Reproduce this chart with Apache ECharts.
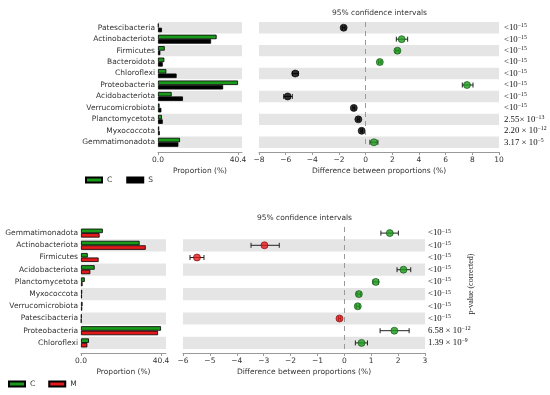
<!DOCTYPE html>
<html><head><meta charset="utf-8">
<script src="https://cdn.jsdelivr.net/npm/echarts@6/dist/echarts.min.js"></script>
<style>html,body{margin:0;padding:0;background:#fff}#c{width:550px;height:395px}</style>
</head><body><div id="c"></div>
<script>
// ---- data: top panel (C vs S) ----
const topCats = ['Patescibacteria','Actinobacteriota','Firmicutes','Bacteroidota','Chloroflexi','Proteobacteria','Acidobacteriota','Verrucomicrobiota','Planctomycetota','Myxococcota','Gemmatimonadota'];
const topC = [0.3, 29.6, 3.4, 3.2, 4.2, 40.4, 6.9, 0.8, 2.0, 0.6, 11.1];
const topS = [2.0, 26.8, 1.2, 2.4, 9.4, 32.9, 12.6, 1.7, 2.4, 0.9, 10.3];
const topDiff = [-1.65, 2.7, 2.38, 1.06, -5.28, 7.6, -5.85, -0.89, -0.55, -0.3, 0.62];
const topLow  = [-1.75, 2.3, 2.26, 0.96, -5.5, 7.25, -6.15, -0.96, -0.62, -0.36, 0.32];
const topHigh = [-1.55, 3.15, 2.5, 1.16, -5.05, 8.05, -5.5, -0.82, -0.48, -0.24, 0.92];
const topP = ['<10^-15','<10^-15','<10^-15','<10^-15','<10^-15','<10^-15','<10^-15','<10^-15','2.55× 10^-13','2.20 × 10^-12','3.17 × 10^-5'];
// ---- data: bottom panel (C vs M) ----
const botCats = ['Gemmatimonadota','Actinobacteriota','Firmicutes','Acidobacteriota','Planctomycetota','Myxococcota','Verrucomicrobiota','Patescibacteria','Proteobacteria','Chloroflexi'];
const botC = [11.0, 29.6, 3.4, 6.9, 1.9, 0.6, 0.8, 0.3, 40.4, 4.0];
const botM = [9.4, 32.7, 8.9, 4.7, 0.8, 0.5, 0.6, 0.2, 38.9, 3.2];
const botDiff = [1.69, -2.97, -5.48, 2.2, 1.17, 0.54, 0.5, -0.18, 1.86, 0.64];
const botLow  = [1.36, -3.47, -5.74, 1.96, 1.07, 0.47, 0.44, -0.22, 1.33, 0.41];
const botHigh = [2.01, -2.42, -5.22, 2.47, 1.27, 0.61, 0.56, -0.14, 2.41, 0.86];
const botP = ['<10^-15','<10^-15','<10^-15','<10^-15','<10^-15','<10^-15','<10^-15','<10^-15','6.58 × 10^-12','1.39 × 10^-9'];
const propTicks = [0, 40.4];

const GREEN = '#1a9a1a', BLACK = '#000000', RED = '#e31a1c', BAND = '#e5e5e5';
const FONT = 'DejaVu Sans', SERIF = 'Liberation Serif';
const FS = 7.5;
const minus = v => String(v).replace('-', '\u2212');
const pfmt = s => { const p = s.split('^'); return '{n|' + p[0] + '}{s|' + minus(p[1]) + '}'; };
const pRich = { n: { fontFamily: SERIF, fontSize: 8.8, color: '#111', lineHeight: 10 },
                s: { fontFamily: SERIF, fontSize: 5.8, color: '#111', verticalAlign: 'top', lineHeight: 6 } };

const axisLineStyle = { show: true, lineStyle: { color: '#999', width: 1 } };
const axisTickStyle = { show: true, length: 3, lineStyle: { color: '#999' } };
const lblStyle = { fontFamily: FONT, fontSize: FS, color: '#333', margin: 4 };
const nameStyle = { fontFamily: FONT, fontSize: FS, color: '#333' };

function propAxis(grid, max) {
  return { type: 'value', gridIndex: grid, min: 0, max: max, offset: 4,
    axisLine: axisLineStyle, axisTick: Object.assign({ customValues: propTicks }, axisTickStyle),
    axisLabel: Object.assign({ customValues: propTicks, formatter: v => v.toFixed(1) }, lblStyle),
    splitLine: { show: false }, name: 'Proportion (%)', nameLocation: 'middle', nameGap: 15,
    nameTextStyle: nameStyle };
}
function diffAxis(grid, min, max, interval) {
  return { type: 'value', gridIndex: grid, min: min, max: max, interval: interval, offset: 4,
    axisLine: axisLineStyle, axisTick: axisTickStyle,
    axisLabel: Object.assign({ formatter: minus }, lblStyle),
    splitLine: { show: false }, name: 'Difference between proportions (%)', nameLocation: 'middle', nameGap: 15,
    nameTextStyle: nameStyle };
}
function catAxis(grid, cats, colors, showLabel) {
  return { type: 'category', gridIndex: grid, data: cats, inverse: true,
    axisLine: { show: false }, axisTick: { show: false },
    axisLabel: Object.assign({ show: showLabel, interval: 0 }, lblStyle, { margin: 3 }),
    splitLine: { show: false }, splitArea: { show: true, interval: 0, areaStyle: { color: colors } } };
}
function pAxis(grid, pv, margin, name) {
  return { type: 'category', gridIndex: grid, data: pv, inverse: true, position: 'right',
    axisLine: { show: false }, axisTick: { show: false },
    axisLabel: { show: true, interval: 0, margin: margin, formatter: pfmt, rich: pRich, align: 'left' },
    splitLine: { show: false }, splitArea: { show: false },
    name: name || '', nameLocation: 'middle', nameRotate: 90, nameGap: 42, nameMoveOverlap: false,
    nameTextStyle: { fontFamily: SERIF, fontSize: 8, color: '#222', padding: [0, 0, 0, 8] } };
}
function errSeries(xi, yi, low, high) {
  return { type: 'custom', xAxisIndex: xi, yAxisIndex: yi, z: 3, silent: true,
    data: low.map((l, i) => [l, high[i], i]),
    encode: { x: [0, 1], y: 2 },
    renderItem: function (params, api) {
      const y = api.value(2);
      const a = api.coord([api.value(0), y]);
      const b = api.coord([api.value(1), y]);
      const h = 2.5, st = { stroke: '#222', lineWidth: 1 };
      return { type: 'group', children: [
        { type: 'line', shape: { x1: a[0], y1: a[1], x2: b[0], y2: b[1] }, style: st },
        { type: 'line', shape: { x1: a[0], y1: a[1] - h, x2: a[0], y2: a[1] + h }, style: st },
        { type: 'line', shape: { x1: b[0], y1: b[1] - h, x2: b[0], y2: b[1] + h }, style: st } ] };
    } };
}
function dotSeries(xi, yi, diff, negColor, negBorder) {
  return { type: 'scatter', xAxisIndex: xi, yAxisIndex: yi, z: 4, symbolSize: 7,
    data: diff.map((d, i) => ({ value: [d, i],
      itemStyle: { color: d >= 0 ? GREEN : negColor, borderColor: d >= 0 ? '#0f4f0f' : negBorder, borderWidth: 0.8 } })),
    markLine: { silent: true, symbol: 'none', label: { show: false },
      lineStyle: { type: [5, 4], color: '#999', width: 1 }, data: [{ xAxis: 0 }] } };
}
function barSeries(name, xi, yi, data, color) {
  return { type: 'bar', name: name, xAxisIndex: xi, yAxisIndex: yi, data: data, barWidth: 4.5, barGap: '0%',
    itemStyle: { color: color, borderColor: '#000', borderWidth: 0.8 } };
}

const option = {
  animation: false,
  backgroundColor: '#fff',
  title: [
    { text: '95% confidence intervals', left: 327, top: 4, textStyle: { fontFamily: FONT, fontSize: FS, fontWeight: 'normal', color: '#333' } },
    { text: '95% confidence intervals', left: 252, top: 209, textStyle: { fontFamily: FONT, fontSize: FS, fontWeight: 'normal', color: '#333' } }
  ],
  legend: [
    { data: ['C', 'S'], left: 85, top: 176, padding: 0, itemWidth: 16, itemHeight: 5, itemGap: 14, icon: 'rect',
      textStyle: { fontFamily: FONT, fontSize: FS, color: '#333' } },
    { data: ['C', 'M'], left: 8, top: 380, padding: 0, itemWidth: 16, itemHeight: 5, itemGap: 13, icon: 'rect',
      textStyle: { fontFamily: FONT, fontSize: FS, color: '#333' } }
  ],
  grid: [
    { left: 158, width: 84, top: 22, height: 126 },
    { left: 259, width: 240, top: 22, height: 126 },
    { left: 81, width: 85, top: 227, height: 122 },
    { left: 183, width: 242, top: 227, height: 122 }
  ],
  xAxis: [
    propAxis(0, 40.4 * 84 / 80),
    diffAxis(1, -8, 10, 2),
    propAxis(2, 40.4 * 85 / 80),
    diffAxis(3, -6, 3, 1)
  ],
  yAxis: [
    catAxis(0, topCats, [BAND, 'rgba(0,0,0,0)'], true),
    catAxis(1, topCats, [BAND, 'rgba(0,0,0,0)'], false),
    pAxis(1, topP, 5),
    catAxis(2, botCats, ['rgba(0,0,0,0)', BAND], true),
    catAxis(3, botCats, ['rgba(0,0,0,0)', BAND], false),
    pAxis(3, botP, 3, 'p-value (corrected)')
  ],
  series: [
    barSeries('C', 0, 0, topC, GREEN),
    barSeries('S', 0, 0, topS, BLACK),
    errSeries(1, 1, topLow, topHigh),
    dotSeries(1, 1, topDiff, BLACK, '#000'),
    barSeries('C', 2, 3, botC, GREEN),
    barSeries('M', 2, 3, botM, RED),
    errSeries(3, 4, botLow, botHigh),
    dotSeries(3, 4, botDiff, RED, '#7a0000')
  ]
};
const chart = echarts.init(document.getElementById('c'), null, { renderer: 'canvas' });
chart.setOption(option);
</script>
</body></html>
